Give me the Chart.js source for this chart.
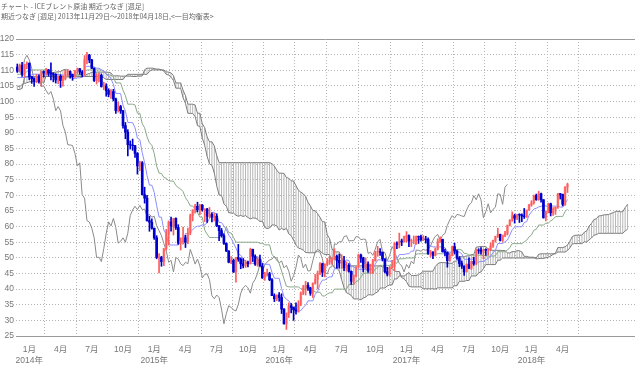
<!DOCTYPE html>
<html>
<head>
<meta charset="utf-8">
<script src="https://cdn.jsdelivr.net/npm/chart.js@4.4.1/dist/chart.umd.min.js"></script>
<style>
html, body { margin: 0; padding: 0; background: #fff; }
#wrap { position: relative; width: 640px; height: 386px; }
.ttl { position: absolute; left: 1px; font: 7px "Noto Sans CJK JP", sans-serif; color: #666; white-space: nowrap; }
</style>
</head>
<body>
<div id="wrap">
  <canvas id="ichimoku" width="640" height="386"></canvas>
  <div class="ttl" style="top:1px">チャート - ICEブレント原油 期近つなぎ [週足]</div>
  <div class="ttl" style="top:11px">期近つなぎ [週足] 2013年11月29日～2018年04月18日,&lt;一目均衡表&gt;</div>
</div>
<script>
// weekly bars, week 0 = 2013/11/29, last = 2018/04/18
// highs / lows of the 77 weeks before the first bar (needed for the spans at the left edge)
var preHigh = [
  101.9, 99.5, 98.5, 97.8, 101.3, 102.4, 108.2, 107.8, 109.5, 113.0,
  117.0, 116.7, 114.5, 115.7, 117.9, 117.9, 112.9, 113.3, 116.0, 115.6,
  110.6, 110.2, 109.7, 110.7, 111.6, 111.9, 111.6, 109.7, 110.5, 111.4,
  113.1, 112.5, 112.1, 113.9, 116.9, 119.2, 119.2, 118.4, 115.0, 112.2,
  110.9, 110.2, 111.0, 110.9, 107.3, 103.9, 104.1, 105.4, 105.5, 104.8,
  105.7, 103.3, 104.0, 106.0, 107.1, 103.6, 108.0, 109.0, 109.6, 108.6,
  109.5, 109.9, 111.1, 111.6, 117.3, 117.3, 116.4, 112.0, 109.9, 110.0,
  112.4, 111.9, 110.7, 110.0, 106.8, 108.6, 111.0
];
var preLow = [
  96.0, 95.8, 88.5, 89.2, 96.5, 97.0, 101.8, 102.6, 103.9, 108.0,
  111.5, 112.9, 111.4, 112.5, 113.4, 107.9, 108.7, 107.2, 111.5, 108.9,
  107.0, 105.4, 104.9, 105.6, 107.3, 108.7, 106.7, 105.7, 107.6, 108.7,
  110.2, 110.3, 109.2, 110.9, 112.9, 115.4, 116.2, 112.9, 109.8, 109.5,
  107.3, 106.6, 107.5, 103.9, 102.2, 96.8, 98.8, 100.3, 102.0, 101.5,
  101.5, 100.1, 100.2, 102.4, 100.8, 100.1, 102.0, 105.3, 107.1, 105.6,
  106.3, 106.6, 107.9, 108.9, 109.6, 111.0, 110.9, 107.6, 107.0, 106.9,
  108.9, 107.8, 106.5, 104.9, 102.9, 104.5, 106.9
];

var opens = [
  111.0, 109.7, 111.6, 108.8, 111.8, 112.2, 107.9, 107.3, 106.5, 107.9,
  106.4, 109.6, 109.1, 110.1, 109.1, 108.9, 108.7, 106.9, 108.1, 106.7,
  107.3, 109.5, 109.6, 108.6, 107.9, 109.8, 110.5, 109.4, 108.6, 113.4,
  114.8, 113.3, 110.6, 106.7, 107.2, 108.4, 104.8, 105.0, 103.5, 102.3,
  103.2, 100.8, 97.1, 98.4, 97.0, 92.3, 90.2, 86.2, 86.1, 85.9,
  83.4, 79.4, 80.4, 70.2, 69.1, 61.9, 61.4, 59.5, 56.4, 50.1,
  50.2, 48.8, 53.0, 57.8, 61.5, 60.2, 62.6, 59.7, 54.7, 55.3,
  56.4, 55.0, 57.9, 63.5, 65.3, 66.5, 65.4, 66.8, 65.4, 65.6,
  63.3, 63.9, 63.0, 63.3, 60.3, 58.7, 57.1, 54.6, 52.2, 48.6,
  49.2, 45.5, 50.1, 49.6, 48.1, 47.5, 48.6, 48.1, 52.7, 50.5,
  48.0, 49.6, 47.4, 43.6, 44.7, 44.9, 43.0, 37.9, 36.9, 38.1,
  37.3, 33.6, 28.9, 32.2, 34.7, 34.1, 33.4, 33.0, 35.1, 38.7,
  40.4, 41.2, 40.4, 38.7, 41.9, 43.1, 45.1, 48.1, 45.4, 47.8,
  48.7, 49.3, 49.6, 50.5, 49.2, 48.4, 49.0, 46.8, 47.6, 45.7,
  42.5, 44.3, 47.0, 50.9, 49.9, 46.8, 48.0, 45.8, 45.9, 49.1,
  51.9, 52.0, 51.8, 49.7, 45.6, 44.8, 46.9, 47.2, 54.5, 54.3,
  55.4, 55.1, 56.8, 57.1, 55.4, 55.3, 55.5, 56.8, 56.7, 55.8,
  56.0, 55.9, 51.4, 51.8, 50.8, 52.8, 55.2, 55.9, 52.0, 51.7,
  49.1, 50.8, 53.6, 52.2, 49.9, 48.2, 47.4, 45.5, 47.9, 46.7,
  48.9, 48.1, 52.5, 52.4, 52.1, 52.7, 52.4, 52.8, 53.8, 55.6,
  56.9, 57.5, 55.6, 57.2, 57.8, 60.4, 62.1, 63.5, 62.7, 63.9,
  63.7, 63.4, 63.2, 65.3, 66.9, 67.6, 69.9, 68.6, 70.5, 68.6,
  62.8, 64.8, 67.3, 64.4, 65.5, 66.2, 70.5, 70.3, 67.1, 72.6
];
var highs = [
  112.0, 112.0, 112.5, 111.9, 112.7, 112.4, 108.0, 107.6, 108.7, 108.5,
  109.8, 109.8, 110.6, 110.3, 112.4, 109.2, 108.9, 108.2, 108.6, 108.1,
  110.0, 110.3, 109.8, 108.8, 110.0, 110.7, 110.6, 109.9, 114.7, 115.7,
  115.1, 113.5, 110.8, 108.9, 109.0, 108.8, 106.2, 105.7, 104.1, 103.8,
  103.9, 101.1, 99.8, 98.8, 97.2, 93.3, 91.0, 87.4, 88.0, 86.0,
  83.7, 80.9, 80.8, 72.6, 70.0, 63.3, 62.5, 59.5, 57.1, 51.4,
  50.5, 53.0, 59.1, 61.8, 63.0, 62.6, 62.8, 60.6, 56.4, 59.8,
  57.2, 59.5, 64.0, 65.4, 67.1, 67.8, 67.1, 67.1, 65.7, 65.8,
  66.1, 64.4, 64.2, 64.1, 60.3, 59.4, 57.7, 54.8, 52.3, 50.4,
  49.6, 50.2, 54.3, 50.0, 49.8, 49.2, 49.0, 53.1, 52.8, 51.0,
  50.0, 50.9, 48.2, 45.4, 46.4, 45.4, 43.4, 38.5, 38.2, 38.9,
  38.5, 33.8, 32.4, 35.6, 35.4, 34.3, 35.6, 36.3, 39.1, 41.2,
  42.5, 42.1, 40.6, 42.0, 44.7, 45.8, 48.5, 48.3, 48.1, 49.8,
  50.5, 50.0, 52.9, 50.9, 51.2, 51.0, 50.5, 48.7, 48.2, 45.8,
  44.5, 47.1, 51.2, 51.2, 50.2, 50.0, 48.7, 48.0, 49.5, 52.1,
  53.7, 53.0, 51.8, 49.7, 47.0, 47.3, 49.2, 55.0, 55.1, 57.9,
  56.0, 57.0, 58.4, 57.4, 56.0, 57.0, 57.0, 57.0, 57.3, 57.1,
  56.9, 56.4, 52.4, 52.0, 53.2, 56.1, 56.7, 56.0, 52.8, 51.9,
  51.3, 53.8, 54.7, 52.5, 50.4, 49.0, 47.4, 48.1, 50.0, 48.9,
  50.2, 52.7, 52.9, 53.3, 52.7, 52.9, 53.0, 54.8, 55.7, 56.9,
  59.5, 57.6, 57.3, 58.5, 60.5, 62.2, 64.7, 64.0, 63.9, 64.1,
  64.1, 65.8, 65.3, 67.1, 68.3, 70.1, 70.4, 71.3, 70.7, 68.6,
  65.0, 67.5, 67.5, 66.1, 66.3, 70.6, 70.6, 70.4, 72.8, 73.9
];
var lows = [
  109.3, 109.5, 108.0, 107.9, 110.5, 107.0, 105.8, 104.8, 106.0, 105.9,
  104.9, 107.8, 108.5, 108.1, 106.9, 106.3, 105.9, 105.7, 104.5, 104.9,
  106.9, 108.2, 107.5, 106.8, 107.7, 108.9, 108.7, 107.9, 108.4, 112.0,
  112.4, 110.5, 106.4, 105.6, 106.3, 104.6, 103.8, 101.7, 101.5, 101.0,
  100.2, 96.2, 96.6, 96.2, 91.5, 88.1, 82.6, 84.8, 84.4, 82.1,
  76.8, 77.9, 70.1, 67.5, 61.7, 58.5, 59.2, 55.9, 49.7, 45.2,
  47.3, 47.5, 52.5, 54.1, 58.5, 57.3, 59.1, 54.3, 52.5, 54.4,
  53.3, 54.5, 57.4, 61.8, 64.3, 64.7, 63.8, 64.9, 61.6, 61.3,
  62.8, 61.5, 61.8, 60.0, 55.5, 56.6, 54.3, 52.0, 48.4, 48.1,
  45.3, 42.2, 48.9, 46.5, 46.8, 46.9, 47.1, 48.0, 48.8, 47.6,
  47.3, 47.3, 43.4, 42.8, 44.1, 42.7, 37.9, 36.0, 36.3, 36.1,
  32.2, 28.8, 27.1, 30.9, 32.4, 30.0, 32.0, 32.6, 34.7, 38.2,
  38.1, 39.6, 38.0, 37.3, 41.6, 40.1, 44.6, 44.0, 43.9, 47.4,
  47.9, 48.0, 49.5, 46.7, 46.7, 46.6, 45.9, 45.8, 45.4, 41.5,
  41.5, 43.9, 46.8, 48.5, 45.5, 46.4, 45.3, 45.1, 45.0, 48.9,
  50.5, 50.8, 49.0, 45.2, 44.2, 44.2, 46.8, 45.9, 52.9, 53.2,
  53.9, 55.0, 55.0, 53.6, 53.6, 54.5, 54.3, 54.6, 55.3, 55.5,
  54.7, 51.1, 50.3, 49.7, 50.6, 52.5, 54.9, 51.8, 50.6, 47.0,
  48.9, 50.6, 51.2, 49.5, 47.2, 46.6, 44.4, 45.5, 46.5, 46.3,
  47.6, 47.8, 51.4, 51.2, 49.7, 50.8, 50.9, 52.3, 53.3, 55.0,
  56.5, 55.4, 55.2, 56.8, 57.3, 60.2, 61.7, 61.1, 62.2, 61.3,
  61.6, 62.6, 62.9, 65.2, 66.5, 67.2, 68.4, 68.4, 67.8, 62.7,
  61.8, 64.4, 63.4, 63.6, 63.9, 65.8, 68.8, 66.6, 66.8, 70.9
];
var closes = [
  109.7, 111.6, 108.8, 111.8, 112.2, 107.9, 107.3, 106.5, 107.9, 106.4,
  109.6, 109.1, 110.1, 109.1, 108.9, 108.7, 106.9, 108.1, 106.7, 107.3,
  109.5, 109.6, 108.6, 107.9, 109.8, 110.5, 109.4, 108.6, 113.4, 114.8,
  113.3, 110.6, 106.7, 107.2, 108.4, 104.8, 105.0, 103.5, 102.3, 103.2,
  100.8, 97.1, 98.4, 97.0, 92.3, 90.2, 86.2, 86.1, 85.9, 83.4,
  79.4, 80.4, 70.2, 69.1, 61.9, 61.4, 59.5, 56.4, 50.1, 50.2,
  48.8, 53.0, 57.8, 61.5, 60.2, 62.6, 59.7, 54.7, 55.3, 56.4,
  55.0, 57.9, 63.5, 65.3, 66.5, 65.4, 66.8, 65.4, 65.6, 63.3,
  63.9, 63.0, 63.3, 60.3, 58.7, 57.1, 54.6, 52.2, 48.6, 49.2,
  45.5, 50.1, 49.6, 48.1, 47.5, 48.6, 48.1, 52.7, 50.5, 48.0,
  49.6, 47.4, 43.6, 44.7, 44.9, 43.0, 37.9, 36.9, 38.1, 37.3,
  33.6, 28.9, 32.2, 34.7, 34.1, 33.4, 33.0, 35.1, 38.7, 40.4,
  41.2, 40.4, 38.7, 41.9, 43.1, 45.1, 48.1, 45.4, 47.8, 48.7,
  49.3, 49.6, 50.5, 49.2, 48.4, 49.0, 46.8, 47.6, 45.7, 42.5,
  44.3, 47.0, 50.9, 49.9, 46.8, 48.0, 45.8, 45.9, 49.1, 51.9,
  52.0, 51.8, 49.7, 45.6, 44.8, 46.9, 47.2, 54.5, 54.3, 55.2,
  55.1, 56.8, 57.1, 55.4, 55.5, 55.5, 56.8, 56.7, 55.8, 56.0,
  55.9, 51.4, 51.8, 50.8, 52.8, 55.2, 55.9, 52.0, 51.7, 49.1,
  50.8, 53.6, 52.2, 49.9, 48.2, 47.4, 45.5, 47.9, 46.7, 48.9,
  48.1, 52.5, 52.4, 52.1, 52.7, 52.4, 52.8, 53.8, 55.6, 56.9,
  57.5, 55.6, 57.2, 57.8, 60.4, 62.1, 63.5, 62.7, 63.9, 63.7,
  63.4, 63.2, 65.3, 66.9, 67.6, 69.9, 68.6, 70.5, 68.6, 62.8,
  64.8, 67.3, 64.4, 65.5, 66.2, 70.5, 70.3, 67.1, 72.6, 73.5
];

// x axis: first bar of each quarter
var tickWeeks = [5, 18, 31, 44, 57, 70, 83, 96, 109, 122, 135, 149, 162, 175, 188, 201, 214, 227];
var tickMonths = ["1月", "4月", "7月", "10月", "1月", "4月", "7月", "10月", "1月", "4月", "7月", "10月", "1月", "4月", "7月", "10月", "1月", "4月"];
var tickYears = ["2014年", "", "", "", "2015年", "", "", "", "2016年", "", "", "", "2017年", "", "", "", "2018年", ""];

// ichimoku settings
var SHIFT = 25; // 26 bars counting the current one
var P = preHigh.length;
var allHigh = preHigh.concat(highs);
var allLow = preLow.concat(lows);
var N = closes.length;

function midRange(end, len) {
  var h = -Infinity, l = Infinity;
  for (var k = end - len + 1; k <= end; k++) {
    if (allHigh[k] > h) h = allHigh[k];
    if (allLow[k] < l) l = allLow[k];
  }
  return (h + l) / 2;
}

var tenkan = [], kijun = [], spanA = [], spanB = [], chikou = [], cloud = [];
for (var t = 0; t < N; t++) {
  tenkan.push({ x: t, y: midRange(t + P, 9) });
  kijun.push({ x: t, y: midRange(t + P, 26) });
}
for (var p = 0; p < N + SHIFT; p++) {
  var g = p - SHIFT + P;
  var a = (midRange(g, 9) + midRange(g, 26)) / 2;
  var b = midRange(g, 52);
  spanA.push({ x: p, y: a });
  spanB.push({ x: p, y: b });
  cloud.push({ x: p, y: [Math.min(a, b), Math.max(a, b)] });
}
for (var c = 0; c + SHIFT < N; c++) {
  chikou.push({ x: c, y: closes[c + SHIFT] });
}

var isUp = closes.map(function (v, i) { return v >= opens[i]; });
var bodyColor = isUp.map(function (u) { return u ? "#ffa2a2" : "#0000cc"; });
var wickColor = isUp.map(function (u) { return u ? "#ff5c5c" : "#0000cc"; });

Chart.defaults.font.family = "'Liberation Sans', 'Noto Sans CJK JP', sans-serif";

function lineSet(label, data, color, order) {
  return { type: "line", label: label, data: data, borderColor: color, borderWidth: 1,
           pointRadius: 0, tension: 0, fill: false, order: order };
}

new Chart(document.getElementById("ichimoku"), {
  type: "bar",
  data: {
    datasets: [
      { type: "bar", label: "wick", data: lows.map(function (l, i) { return { x: i, y: [l, highs[i]] }; }),
        backgroundColor: wickColor, barThickness: 1, grouped: false, order: 0 },
      { type: "bar", label: "body", data: opens.map(function (o, i) { return { x: i, y: [o, closes[i]] }; }),
        backgroundColor: bodyColor, barThickness: 2, grouped: false, order: 1 },
      lineSet("転換線", tenkan, "#8c8cff", 2),
      lineSet("基準線", kijun, "#88a888", 3),
      lineSet("遅行スパン", chikou, "#8a8a8a", 4),
      lineSet("先行スパン1", spanA, "#7c7c7c", 5),
      lineSet("先行スパン2", spanB, "#7c7c7c", 6),
      { type: "bar", label: "雲", data: cloud, backgroundColor: "#b6b6b6",
        barThickness: 1, inflateAmount: 0, grouped: false, order: 7 }
    ]
  },
  options: {
    responsive: false,
    animation: false,
    events: [],
    layout: { padding: { top: 39, right: 5, left: 0, bottom: 0 } },
    plugins: { legend: { display: false }, tooltip: { enabled: false } },
    scales: {
      x: {
        type: "linear", min: -0.54, max: 257.1, bounds: "data", offset: false,
        afterBuildTicks: function (scale) {
          scale.ticks = tickWeeks.map(function (w) { return { value: w }; });
        },
        afterFit: function (scale) { scale.height = 50; },
        ticks: {
          autoSkip: false, maxRotation: 0, color: "#777", padding: 9,
          font: { size: 8.5, lineHeight: 1.2 },
          callback: function (v, i) { return tickYears[i] ? [tickMonths[i], tickYears[i]] : tickMonths[i]; }
        },
        grid: { color: "#b4b4b4", drawTicks: false },
        border: { display: false, dash: [1, 2] }
      },
      y: {
        min: 25, max: 120,
        afterFit: function (scale) { scale.width = 16; },
        ticks: { stepSize: 5, autoSkip: false, color: "#777", padding: 2, font: { size: 8.5 } },
        grid: {
          drawTicks: false,
          color: function (ctx) { var v = ctx.tick && ctx.tick.value; return (v === 120 || v === 25) ? "#9a9a9a" : "#b4b4b4"; }
        },
        border: {
          display: false,
          dash: function (ctx) { var v = ctx.tick && ctx.tick.value; return (v === 120 || v === 25) ? [] : [1, 2]; }
        }
      }
    }
  }
});
</script>
</body>
</html>
